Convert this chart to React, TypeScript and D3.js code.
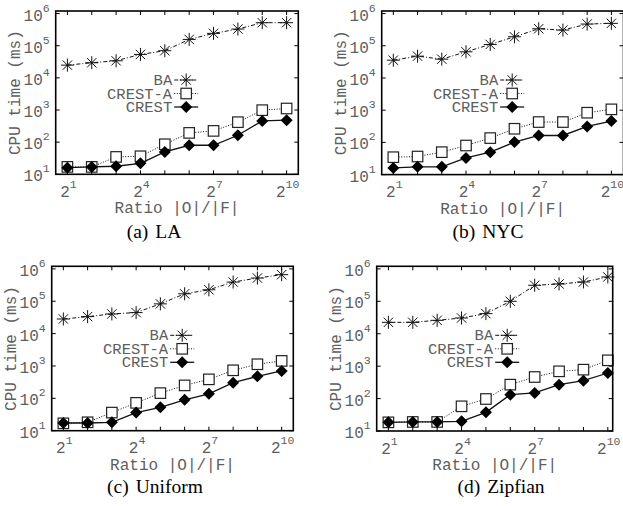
import React from "react";
import * as d3 from "d3";

// ---- data ----
const xExps = [1, 2, 3, 4, 5, 6, 7, 8, 9, 10]; // ratio |O|/|F| = 2^x
const xTickExps = [1, 4, 7, 10];
const yTickExps = [1, 2, 3, 4, 5, 6];
const seriesNames = ["BA", "CREST-A", "CREST"];
const captionTags = ["(a)", "(b)", "(c)", "(d)"];
const captionNames = ["LA", "NYC", "Uniform", "Zipfian"];

const laBA = [24900, 29500, 34000, 53600, 69800, 157000, 242000, 330000, 520000, 520000];
const laCrestA = [17, 17, 34.7, 36.4, 86, 194, 224, 418, 988, 1114];
const laCrest = [16.1, 17, 17.8, 22, 49.7, 80, 80, 164, 459, 482];

const nycBA = [35700, 47600, 38400, 65000, 110000, 190000, 338000, 307000, 473000, 497000];
const nycCrestA = [34.7, 36.4, 49.7, 80, 136, 265, 428, 428, 835, 1062];
const nycCrest = [16.1, 17.4, 17.4, 33, 49.7, 102, 164, 164, 313, 459];

const uniBA = [28300, 33500, 40500, 44600, 83000, 170000, 226000, 392000, 521000, 662000];
const uniCrestA = [16.9, 18.2, 36.3, 72.5, 145, 251, 386, 735, 1130, 1433];
const uniCrest = [17.3, 17.3, 18.2, 36.3, 53, 90, 138, 304, 478, 700];

const zipBA = [22500, 22500, 25900, 30600, 41700, 100000, 312000, 343000, 395000, 564000];
const zipCrestA = [18.5, 19, 19, 57.7, 97, 269, 463, 693, 780, 1514];
const zipCrest = [18.5, 19, 19, 19.9, 37.7, 132, 149, 269, 357, 615];

const panelSeries = [
  [laBA, laCrestA, laCrest],
  [nycBA, nycCrestA, nycCrest],
  [uniBA, uniCrestA, uniCrest],
  [zipBA, zipCrestA, zipCrest],
];

// ---- layout ----
const layouts = [
  { left: 55.7, right: 298.3, top: 11, bottom: 174.3, xMin: 0.52, xMax: 10.48, capX: 154, capY: 238 },
  { left: 381.7, right: 623.5, top: 11, bottom: 174.6, xMin: 0.52, xMax: 10.5, capX: 488, capY: 238 },
  { left: 51.7, right: 293.3, top: 266.3, bottom: 430.7, xMin: 0.52, xMax: 10.48, capX: 155, capY: 493 },
  { left: 376.7, right: 612.7, top: 266.3, bottom: 431, xMin: 0.52, xMax: 10.2, capX: 501, capY: 493 },
];

const MONO = "'Liberation Mono', 'DejaVu Sans Mono', monospace";
const SERIF = "'Liberation Serif', 'DejaVu Serif', serif";
const TXT = "#5e5e5e";

const lineStyles = [
  { dash: "4,2,1,2", width: 1 },
  { dash: "1,1.6", width: 1 },
  { dash: "", width: 1.3 },
];

function Marker({ kind, x, y }: { kind: number; x: number; y: number }) {
  if (kind === 0) {
    const r = 6.5;
    const q = r * 0.72;
    return (
      <g stroke="#111" strokeWidth={1} fill="none">
        <line x1={x - r} y1={y} x2={x + r} y2={y} />
        <line x1={x} y1={y - r} x2={x} y2={y + r} />
        <line x1={x - q} y1={y - q} x2={x + q} y2={y + q} />
        <line x1={x - q} y1={y + q} x2={x + q} y2={y - q} />
      </g>
    );
  }
  if (kind === 1) {
    const s = 10.5;
    return <rect x={x - s / 2} y={y - s / 2} width={s} height={s} fill="#fff" stroke="#222" strokeWidth={1.2} />;
  }
  const r = 6;
  return <path d={`M${x},${y - r}L${x + r},${y}L${x},${y + r}L${x - r},${y}Z`} fill="#000" />;
}

function Panel({ idx }: { idx: number }) {
  const L = layouts[idx];
  const series = panelSeries[idx];
  const x = d3.scaleLinear().domain([L.xMin, L.xMax]).range([L.left, L.right]);
  const y = d3.scaleLog().domain([10, Math.pow(10, 6.08)]).range([L.bottom, L.top]);
  const tick = 4;
  const cx = (L.left + L.right) / 2;
  const cy = (L.top + L.bottom) / 2;
  const legX = L.left + 116.5;
  const legRows = [L.top + 69, L.top + 82.5, L.top + 96];

  return (
    <g>
      {/* ticks */}
      <g stroke="#000" strokeWidth={1}>
        {xExps.map((e) => (
          <g key={"xt" + e}>
            <line x1={x(e)} x2={x(e)} y1={L.bottom} y2={L.bottom - tick} />
            <line x1={x(e)} x2={x(e)} y1={L.top} y2={L.top + tick} />
          </g>
        ))}
        {yTickExps.map((e) => (
          <g key={"yt" + e}>
            <line x1={L.left} x2={L.left + tick} y1={y(Math.pow(10, e))} y2={y(Math.pow(10, e))} />
            <line x1={L.right} x2={L.right - tick} y1={y(Math.pow(10, e))} y2={y(Math.pow(10, e))} />
          </g>
        ))}
      </g>
      {/* y tick labels */}
      {yTickExps.map((e) => (
        <text key={"yl" + e} x={L.left - 6} y={y(Math.pow(10, e)) + 7} textAnchor="end" fontFamily={MONO} fontSize={16} fill={TXT}>
          10
          <tspan fontSize={11.5} dy={-9}>
            {e}
          </tspan>
        </text>
      ))}
      {/* x tick labels */}
      {xTickExps.map((e) => (
        <text key={"xl" + e} x={x(e) + 1} y={L.bottom + 22.5} textAnchor="middle" fontFamily={MONO} fontSize={16} fill={TXT}>
          2
          <tspan fontSize={11.5} dy={-9}>
            {e}
          </tspan>
        </text>
      ))}
      {/* axis labels */}
      <text x={cx} y={L.bottom + 39} textAnchor="middle" fontFamily={MONO} fontSize={16} fill={TXT}>
        Ratio |O|/|F|
      </text>
      <text
        transform={`translate(${L.left - 36},${cy}) rotate(-90)`}
        textAnchor="middle"
        fontFamily={MONO}
        fontSize={16}
        fill={TXT}
      >
        CPU time (ms)
      </text>
      {/* series */}
      {series.map((vals, si) => {
        const pts: [number, number][] = xExps.map((e, i) => [x(e), y(vals[i])]);
        const path = d3.line()(pts) || "";
        return (
          <g key={"s" + si}>
            <path d={path} fill="none" stroke="#111" strokeWidth={lineStyles[si].width} strokeDasharray={lineStyles[si].dash} />
            {pts.map((p, i) => (
              <Marker key={i} kind={si} x={p[0]} y={p[1]} />
            ))}
          </g>
        );
      })}
      {/* legend */}
      {seriesNames.map((name, si) => (
        <g key={"lg" + si}>
          <text x={legX} y={legRows[si] + 5} textAnchor="end" fontFamily={MONO} fontSize={15.5} fill={TXT}>
            {name}
          </text>
          <line
            x1={legX + 2}
            x2={legX + 26}
            y1={legRows[si]}
            y2={legRows[si]}
            stroke="#111"
            strokeWidth={lineStyles[si].width}
            strokeDasharray={lineStyles[si].dash}
          />
          <Marker kind={si} x={legX + 14} y={legRows[si]} />
        </g>
      ))}
      {/* frame */}
      <rect x={L.left} y={L.top} width={L.right - L.left} height={L.bottom - L.top} fill="none" stroke="#000" strokeWidth={1.6} />
      {/* caption */}
      <text x={L.capX} y={L.capY} textAnchor="middle" fontFamily={SERIF} fontSize={19.5} fill="#000">
        {captionTags[idx]}
        <tspan dx={7}>{captionNames[idx]}</tspan>
      </text>
    </g>
  );
}

export default function App() {
  return (
    <svg width={623} height={506} style={{ position: "absolute", left: 0, top: 0, background: "#fff" }}>
      <rect width={623} height={506} fill="#fff" />
      {layouts.map((_, i) => (
        <Panel key={i} idx={i} />
      ))}
    </svg>
  );
}
